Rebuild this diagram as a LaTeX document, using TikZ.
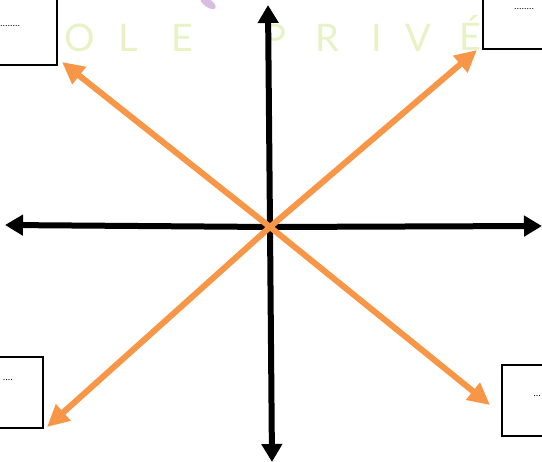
\documentclass[tikz,border=0pt]{standalone}
\usepackage{fontspec}
\setmainfont{Liberation Serif}
\newfontfamily\wmfont{Lato}
\usetikzlibrary{arrows.meta}
\definecolor{wm}{RGB}{232,242,196}
\definecolor{lil}{RGB}{218,190,225}
\definecolor{org}{RGB}{247,150,70}
\tikzset{
  axis/.style={line width=6pt,black,-{Triangle[length=18pt,width=20pt]}},
  diag/.style={line width=6pt,org,-{Triangle[length=22pt,width=21pt]}},
  box/.style={draw=black,line width=1.8pt,fill=white},
  dots/.style={font=\fontsize{10}{10}\selectfont,inner sep=0pt},
  wmletter/.style={font=\wmfont\fontsize{38}{38}\selectfont,text=wm,inner sep=0pt}
}
\begin{document}
\begin{tikzpicture}[x=1pt,y=-1pt]
\useasboundingbox (0,0) rectangle (542,462);
% watermark
\fill[lil,rotate around={-35:(208,3)}] (208,3) ellipse (9 and 4);
\node[wmletter] (w1) at (80,38) {O};
\node[wmletter] (w2) at (128,38) {L};
\node[wmletter] (w3) at (182,38) {E};
\node[wmletter] (w4) at (275,38) {P};
\node[wmletter] (w5) at (327,38) {R};
\node[wmletter] (w6) at (377,38) {I};
\node[wmletter] (w7) at (418,38) {V};
\node[wmletter] (w8) at (470,33) {É};
% boxes
\draw[box] (-5,-5) rectangle (57,65);
\node[dots,anchor=west] (t1) at (0,26) {........};
\draw[box] (483,-5) rectangle (548,49);
\node[dots,anchor=west] (t2) at (514,9) {........};
\draw[box] (-5,357) rectangle (43,428);
\node[dots,anchor=east] (t3) at (13,380) {....};
\draw[box] (502,365) rectangle (548,436);
\node[dots,anchor=east] (t4) at (541,396) {...};
% axes
\coordinate (c) at (270,227);
\coordinate (left) at (5,225);
\coordinate (right) at (542,226);
\coordinate (top) at (268,5);
\coordinate (bot) at (272,462);
\draw[axis] (c) -- (left);
\draw[axis] (c) -- (right);
\draw[axis] (c) -- (top);
\draw[axis] (c) -- (bot);
% diagonals
\coordinate (tl) at (62,62);
\coordinate (tr) at (477,50);
\coordinate (bl) at (47,427);
\coordinate (br) at (490,405);
\draw[diag] (c) -- (tl);
\draw[diag] (c) -- (tr);
\draw[diag] (c) -- (bl);
\draw[diag] (c) -- (br);
\end{tikzpicture}
\end{document}
